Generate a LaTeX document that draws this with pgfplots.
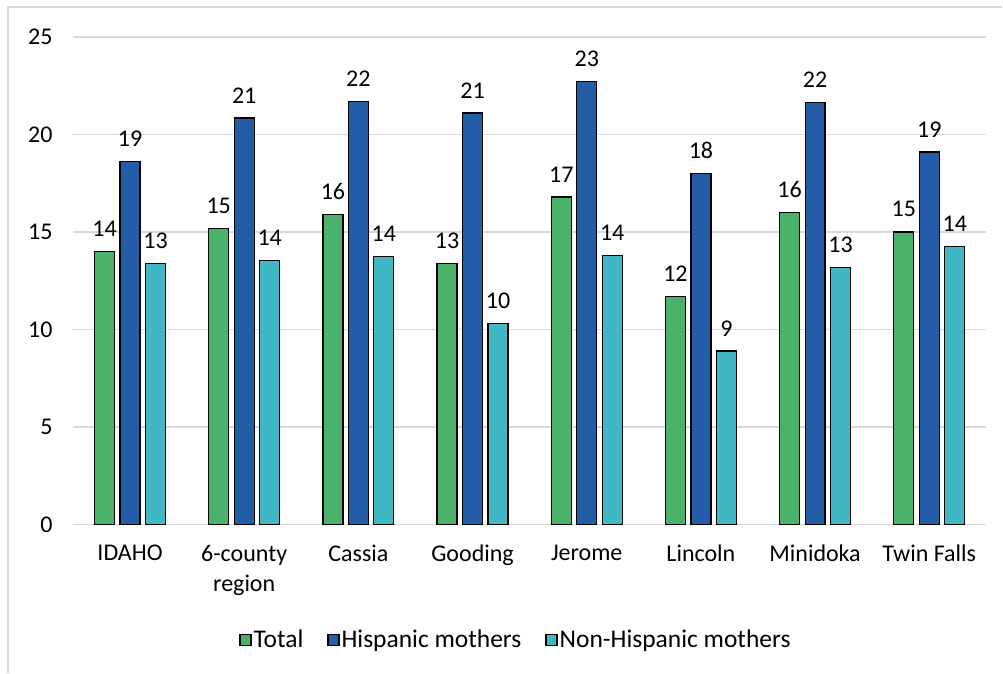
\documentclass[border=0pt]{standalone}
\usepackage{fontspec}
\setmainfont{Carlito}
\usepackage{pgfplots}
\pgfplotsset{compat=1.18}
\definecolor{cTotal}{RGB}{74,178,106}
\definecolor{cHisp}{RGB}{35,93,168}
\definecolor{cNon}{RGB}{65,182,196}
\definecolor{gridc}{RGB}{217,217,217}
\begin{document}
\begin{tikzpicture}[x=1pt,y=1pt,font=\fontsize{24pt}{29pt}\selectfont]
\path (0,0) rectangle (1003,673);
\draw[gridc, line width=1.3pt] (8,0) -- (8,666) -- (1003,666);
\begin{axis}[
  at={(73pt,148pt)}, anchor=south west,
  scale only axis, width=914pt, height=488pt,
  ymin=0, ymax=25, ytick={0,5,...,25},
  xmin=-0.5, xmax=7.5, xtick={0,...,7},
  xticklabels={IDAHO,{6-county\\region},Cassia,Gooding,Jerome,Lincoln,Minidoka,Twin Falls},
  xticklabel style={align=center, yshift=-17pt, font=\fontsize{24pt}{30pt}\selectfont},
  yticklabel style={xshift=-17pt, font=\fontsize{24pt}{29pt}\selectfont},
  /pgf/number format/assume math mode=true,
  axis line style={draw=none},
  ymajorgrids, grid style={gridc, line width=1.3pt},
  major tick length=0pt,
  ybar=5.5pt, bar width=20pt,
  nodes near coords={\pgfmathprintnumber[fixed,precision=0]{\pgfplotspointmeta}},
  every node near coord/.append style={black, yshift=11pt, font=\fontsize{24pt}{29pt}\selectfont},
  legend columns=3,
  legend style={at={(0.485,-0.236)}, anchor=center, draw=none, fill=none,
    font=\fontsize{25.5pt}{30pt}\selectfont,
    /tikz/every even column/.append style={column sep=22pt}},
  legend image code/.code={\draw[#1, line width=1.2pt] (0pt,-6pt) rectangle (11pt,5pt);},
]
\addplot[fill=cTotal, draw=black, line width=1.2pt] coordinates {(0,14.0) (1,15.2) (2,15.9) (3,13.4) (4,16.8) (5,11.7) (6,16.0) (7,15.0)};
\addplot[fill=cHisp, draw=black, line width=1.2pt] coordinates {(0,18.6) (1,20.85) (2,21.7) (3,21.1) (4,22.7) (5,18.0) (6,21.65) (7,19.1)};
\addplot[fill=cNon, draw=black, line width=1.2pt] coordinates {(0,13.4) (1,13.55) (2,13.75) (3,10.3) (4,13.8) (5,8.9) (6,13.2) (7,14.25)};
\legend{Total, Hispanic mothers, Non-Hispanic mothers}
\end{axis}
\end{tikzpicture}
\end{document}
